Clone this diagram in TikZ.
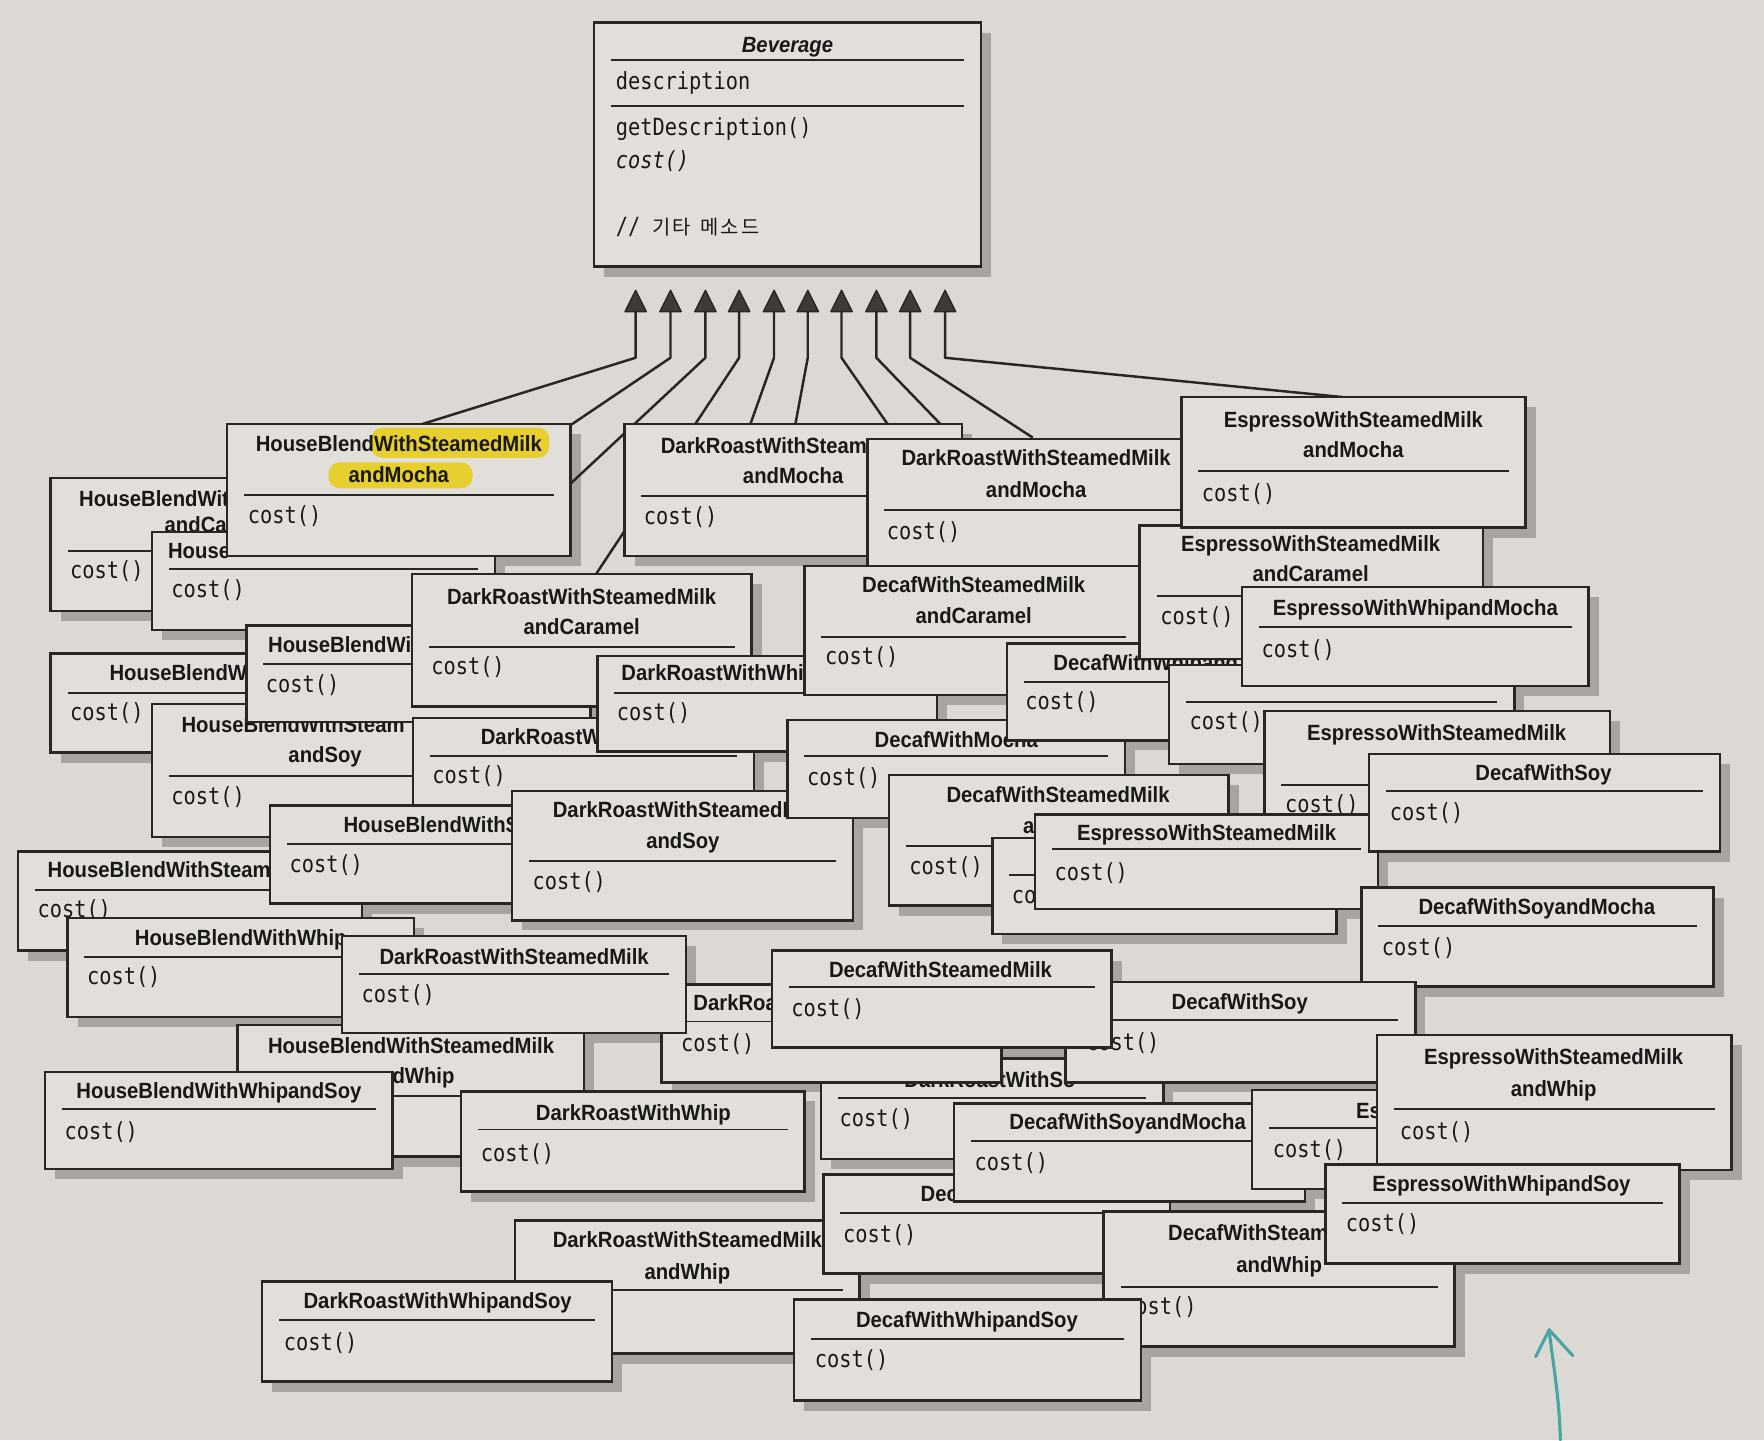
\documentclass[tikz,border=0pt]{standalone}
\usepackage{fontspec}
\setmainfont{Liberation Sans}
\newfontfamily\ttlf[FakeStretch=0.92]{Liberation Sans}
\newfontfamily\monof[FakeStretch=0.86]{DejaVu Sans Mono}
\newfontfamily\cjk{Noto Sans CJK KR}
\definecolor{paperc}{HTML}{DCD9D5}
\definecolor{boxc}{HTML}{E2DFDB}
\definecolor{shadc}{HTML}{A7A4A1}
\definecolor{linec}{HTML}{2A2624}
\definecolor{txtc}{HTML}{1A1817}
\definecolor{arrc}{HTML}{3E3A38}
\definecolor{hlc}{HTML}{E6CF2E}
\definecolor{tealc}{HTML}{4AA5A3}
\pgfdeclarelayer{bgl}
\pgfdeclarelayer{shl}
\pgfsetlayers{bgl,shl,main}
\newcommand{\ubox}[5]{%
  \begin{pgfonlayer}{shl}
  \fill[shadowst] ({#2+9},{#3+9}) rectangle ({#4+9},{#5+9});
  \end{pgfonlayer}
  \node[boxst, anchor=north west, minimum width={(#4-#2)*0.5pt}, minimum height={(#5-#3)*0.5pt}] (#1) at (#2,#3) {};
}
\newcommand{\udiv}[3]{\draw[divst] ({#1+15},#3) -- ({#2-15},#3);}
\begin{document}
\begin{tikzpicture}[x=0.5pt,y=-0.5pt,
  boxst/.style={draw=linec, fill=boxc, line width=1.1pt, inner sep=0pt, outer sep=0pt},
  shadowst/.style={fill=shadc},
  divst/.style={draw=linec, line width=0.8pt},
  ttl/.style={font=\ttlf\bfseries\fontsize{9.8}{11}\selectfont, text=txtc, inner sep=0pt, anchor=base, yshift=-3.5pt},
  ttlw/.style={ttl, anchor=base west},
  mtx/.style={font=\monof\fontsize{10.5}{12}\selectfont, text=txtc, inner sep=0pt, anchor=base west, yshift=-2.75pt},
  conn/.style={draw=linec, line width=1.1pt, line join=round},
  arrhead/.style={fill=arrc, draw=linec, line width=0.6pt, line join=round},
  tealst/.style={draw=tealc, line width=1.4pt, line cap=round, line join=round},
]
\useasboundingbox (0,0) rectangle (1568,1280);
\begin{pgfonlayer}{bgl}
\fill[paperc] (0,0) rectangle (1568,1280);
\end{pgfonlayer}

% ---------- Beverage ----------
\ubox{Bev}{528}{20}{872}{237}
\udiv{528}{872}{53}
\udiv{528}{872}{94}
\node[ttl, font=\ttlf\bfseries\itshape\fontsize{9.8}{11}\selectfont] (Bevt) at (700,40) {Beverage};
\node[mtx] (Bevd) at (547,74) {description};
\node[mtx] (Bevg) at (547,115) {getDescription()};
\node[mtx, font=\monof\itshape\fontsize{10.5}{12}\selectfont] (Bevc) at (547,144) {cost()};
\node[mtx] (Bevk) at (547,203) {// {\cjk\fontsize{8.8}{10}\selectfont 기\kern1pt 타\hspace{4pt}메\kern1pt 소\kern1pt 드}};

% ---------- arrows ----------
\coordinate (en1) at (375,377);
\coordinate (en2) at (507,378);
\coordinate (en3) at (506,431);
\coordinate (en4) at (530,510);
\coordinate (en5) at (667,377);
\coordinate (en6) at (707,377);
\coordinate (en7) at (789,377);
\coordinate (en8) at (836,377);
\coordinate (en9) at (918,389);
\coordinate (en10) at (1194,353);
\foreach \i/\xx in {1/565,2/596,3/627,4/657,5/688,6/718,7/748,8/779,9/809,10/840} {
  \coordinate (ar\i) at (\xx,277);
  \coordinate (bd\i) at (\xx,318);
}
\foreach \i in {1,...,10} { \draw[conn] (ar\i) -- (bd\i) -- (en\i); }
\foreach \xx in {565,596,627,657,688,718,748,779,809,840} {
  \filldraw[arrhead] (\xx,258) -- ({\xx-9.5},277) -- ({\xx+9.5},277) -- cycle;
}

% ---------- boxes, back to front ----------
\ubox{A1}{45}{425}{348}{543}
\udiv{45}{348}{490}
\node[ttlw] (A1t1) at (70,443) {HouseBlendWit};
\node[ttlw] (A1t2) at (146,466) {andCa};
\node[mtx] (A1c) at (62,509) {cost()};

\ubox{A2}{135}{473}{440}{560}
\udiv{135}{440}{506}
\node[ttlw] (A2t) at (149,489) {House};
\node[mtx] (A2c) at (152,526) {cost()};

\ubox{A3}{202}{377}{507}{494}
\fill[hlc, rounded corners=5pt] (330,380) rectangle (488,407);
\fill[hlc, rounded corners=5pt] (292,411) rectangle (420,434);
\udiv{202}{507}{440}
\node[ttl] (A3t1) at (354.5,394) {HouseBlendWithSteamedMilk};
\node[ttl] (A3t2) at (354.5,422) {andMocha};
\node[mtx] (A3c) at (220,460) {cost()};

\ubox{A5}{45}{581}{350}{669}
\udiv{45}{350}{616}
\node[ttlw] (A5t) at (97,598) {HouseBlendW};
\node[mtx] (A5c) at (62,635) {cost()};

\ubox{A6}{135}{626}{443}{744}
\udiv{135}{443}{690}
\node[ttlw] (A6t1) at (161,644) {HouseBlendWithSteam};
\node[ttl] (A6t2) at (289,671) {andSoy};
\node[mtx] (A6c) at (152,710) {cost()};

\ubox{A4}{219}{556}{525}{642}
\udiv{219}{525}{590}
\node[ttlw] (A4t) at (238,573) {HouseBlendWi};
\node[mtx] (A4c) at (236,610) {cost()};

\ubox{B4}{366}{510}{668}{628}
\udiv{366}{668}{575}
\node[ttl] (B4t1) at (517,530) {DarkRoastWithSteamedMilk};
\node[ttl] (B4t2) at (517,557) {andCaramel};
\node[mtx] (B4c) at (383,594) {cost()};

\ubox{B6}{367}{638}{670}{725}
\udiv{367}{670}{672}
\node[ttlw] (B6t) at (427,655) {DarkRoastW};
\node[mtx] (B6c) at (384,691) {cost()};

\ubox{G3}{16}{757}{322}{845}
\udiv{16}{322}{791}
\node[ttlw] (G3t) at (42,773) {HouseBlendWithSteam};
\node[mtx] (G3c) at (33,810) {cost()};

\ubox{G4}{240}{716}{545}{803}
\udiv{240}{545}{750}
\node[ttlw] (G4t) at (305,733) {HouseBlendWithS};
\node[mtx] (G4c) at (257,770) {cost()};

\ubox{G6}{455}{703}{758}{818}
\udiv{455}{758}{765}
\node[ttlw] (G6t1) at (491,720) {DarkRoastWithSteamedM};
\node[ttl] (G6t2) at (607,747) {andSoy};
\node[mtx] (G6c) at (473,785) {cost()};

\ubox{B5}{531}{583}{833}{668}
\udiv{531}{833}{616}
\node[ttlw] (B5t) at (552,598) {DarkRoastWithWhi};
\node[mtx] (B5c) at (548,635) {cost()};

\ubox{B1}{555}{377}{855}{494}
\udiv{555}{855}{441}
\node[ttlw] (B1t1) at (587,396) {DarkRoastWithSteam};
\node[ttl] (B1t2) at (705,423) {andMocha};
\node[mtx] (B1c) at (572,461) {cost()};

\ubox{B2}{771}{390}{1072}{505}
\udiv{771}{1072}{453}
\node[ttl] (B2t1) at (921,407) {DarkRoastWithSteamedMilk};
\node[ttl] (B2t2) at (921,435) {andMocha};
\node[mtx] (B2c) at (788,474) {cost()};

\ubox{B7}{715}{503}{1016}{618}
\udiv{715}{1016}{566}
\node[ttl] (B7t1) at (865.5,520) {DecafWithSteamedMilk};
\node[ttl] (B7t2) at (865.5,547) {andCaramel};
\node[mtx] (B7c) at (733,585) {cost()};

\ubox{H1}{700}{640}{1000}{727}
\udiv{700}{1000}{672}
\node[ttl] (H1t) at (850,657) {DecafWithMocha};
\node[mtx] (H1c) at (717,693) {cost()};

\ubox{C3}{895}{572}{1200}{658}
\udiv{895}{1200}{606}
\node[ttlw] (C3t) at (936,589) {DecafWithWhipand};
\node[mtx] (C3c) at (911,625) {cost()};

\ubox{C4}{1039}{591}{1346}{679}
\udiv{1039}{1346}{624}
\node[mtx] (C4c) at (1057,643) {cost()};

\ubox{C1}{1013}{467}{1318}{586}
\udiv{1013}{1318}{530}
\node[ttl] (C1t1) at (1165,483) {EspressoWithSteamedMilk};
\node[ttl] (C1t2) at (1165,510) {andCaramel};
\node[mtx] (C1c) at (1031,550) {cost()};

\ubox{B3}{1050}{353}{1356}{469}
\udiv{1050}{1356}{419}
\node[ttl] (B3t1) at (1203,373) {EspressoWithSteamedMilk};
\node[ttl] (B3t2) at (1203,400) {andMocha};
\node[mtx] (B3c) at (1068,440) {cost()};

\ubox{C2}{1104}{522}{1412}{610}
\udiv{1104}{1412}{557}
\node[ttl] (C2t) at (1258,540) {EspressoWithWhipandMocha};
\node[mtx] (C2c) at (1121,579) {cost()};

\ubox{C5}{1124}{632}{1431}{752}
\udiv{1124}{1431}{698}
\node[ttl] (C5t) at (1277,651) {EspressoWithSteamedMilk};
\node[mtx] (C5c) at (1142,717) {cost()};

\ubox{D1}{790}{689}{1092}{805}
\udiv{790}{1092}{752}
\node[ttl] (D1t1) at (940.5,706) {DecafWithSteamedMilk};
\node[ttlw] (D1t2) at (909,734) {a};
\node[mtx] (D1c) at (808,772) {cost()};

\ubox{D2}{882}{745}{1188}{830}
\udiv{882}{1188}{778}
\node[mtx] (D2c) at (899,798) {co};

\ubox{D3}{920}{724}{1225}{808}
\udiv{920}{1225}{755}
\node[ttl] (D3t) at (1072.5,740) {EspressoWithSteamedMilk};
\node[mtx] (D3c) at (937,777) {cost()};

\ubox{C6}{1217}{670}{1529}{757}
\udiv{1217}{1529}{703}
\node[ttl] (C6t) at (1372,687) {DecafWithSoy};
\node[mtx] (C6c) at (1235,724) {cost()};

\ubox{E1}{1210}{789}{1523}{877}
\udiv{1210}{1523}{823}
\node[ttl] (E1t) at (1366,806) {DecafWithSoyandMocha};
\node[mtx] (E1c) at (1228,844) {cost()};

\ubox{H2}{730}{941}{1034}{1030}
\udiv{730}{1034}{976}
\node[ttlw] (H2t) at (803.5,960) {DarkRoastWithSo};
\node[mtx] (H2c) at (746,996) {cost()};

\ubox{F2}{588}{875}{890}{962}
\udiv{588}{890}{908}
\node[ttlw] (F2t) at (616,891) {DarkRoa};
\node[mtx] (F2c) at (605,929) {cost()};

\ubox{E2}{947}{873}{1258}{962}
\udiv{947}{1258}{907}
\node[ttl] (E2t) at (1102,890) {DecafWithSoy};
\node[mtx] (E2c) at (965,928) {cost()};

\ubox{F1}{686}{845}{988}{931}
\udiv{686}{988}{877}
\node[ttl] (F1t) at (836,861.5) {DecafWithSteamedMilk};
\node[mtx] (F1c) at (703,898) {cost()};

\ubox{G2}{60}{816}{368}{904}
\udiv{60}{368}{851}
\node[ttlw] (G2t) at (119.5,833) {HouseBlendWithWhip};
\node[mtx] (G2c) at (77,870) {cost()};

\ubox{G8}{211}{911}{519}{1028}
\udiv{211}{519}{974}
\node[ttl] (G8t1) at (365.4,929) {HouseBlendWithSteamedMilk};
\node[ttlw] (G8t2) at (348.5,956) {dWhip};

\ubox{G1}{304}{832}{610}{918}
\udiv{304}{610}{866}
\node[ttl] (G1t) at (457,850) {DarkRoastWithSteamedMilk};
\node[mtx] (G1c) at (321,886) {cost()};

\ubox{G7}{40}{953}{349}{1039}
\udiv{40}{349}{986}
\node[ttl] (G7t) at (194.6,969.5) {HouseBlendWithWhipandSoy};
\node[mtx] (G7c) at (57,1007) {cost()};

\ubox{G9}{410}{970}{715}{1059}
\udiv{410}{715}{1004}
\node[ttl] (G9t) at (563,989) {DarkRoastWithWhip};
\node[mtx] (G9c) at (427,1027) {cost()};

\ubox{F5}{458}{1085}{764}{1203}
\udiv{458}{764}{1147}
\node[ttl] (F5t1) at (611,1102) {DarkRoastWithSteamedMilk};
\node[ttl] (F5t2) at (611,1130) {andWhip};

\ubox{F4}{732}{1044}{1040}{1132}
\udiv{732}{1040}{1078}
\node[ttlw] (F4t) at (818,1061) {Dec};
\node[mtx] (F4c) at (749,1099) {cost()};

\ubox{E4}{848}{981}{1160}{1068}
\udiv{848}{1160}{1014}
\node[ttlw] (E4t) at (896.8,997) {DecafWithSoyandMocha};
\node[mtx] (E4c) at (866,1035) {cost()};

\ubox{E3}{1113}{969}{1420}{1057}
\udiv{1113}{1420}{1003}
\node[ttlw] (E3t) at (1205,987) {Es};
\node[mtx] (E3c) at (1131,1023) {cost()};

\ubox{E5}{1224}{920}{1539}{1040}
\udiv{1224}{1539}{986}
\node[ttl] (E5t1) at (1381,939) {EspressoWithSteamedMilk};
\node[ttl] (E5t2) at (1381,968) {andWhip};
\node[mtx] (E5c) at (1244,1007) {cost()};

\ubox{E7}{981}{1077}{1293}{1197}
\udiv{981}{1293}{1144}
\node[ttlw] (E7t1) at (1038,1096) {DecafWithSteam};
\node[ttl] (E7t2) at (1137,1124) {andWhip};
\node[mtx] (E7c) at (998,1163) {cost()};

\ubox{E6}{1178}{1035}{1493}{1123}
\udiv{1178}{1493}{1069}
\node[ttl] (E6t) at (1334.6,1052) {EspressoWithWhipandSoy};
\node[mtx] (E6c) at (1196,1089) {cost()};

\ubox{F3}{706}{1155}{1014}{1245}
\udiv{706}{1014}{1190}
\node[ttl] (F3t) at (859.5,1173) {DecafWithWhipandSoy};
\node[mtx] (F3c) at (724,1210) {cost()};

\ubox{G5}{233}{1139}{544}{1228}
\udiv{233}{544}{1173}
\node[ttl] (G5t) at (389,1156) {DarkRoastWithWhipandSoy};
\node[mtx] (G5c) at (252,1195) {cost()};

% ---------- hand-drawn teal arrow ----------
\coordinate (tq0) at (1387,1280);
\coordinate (tq1) at (1377,1182);
\coordinate (tqL) at (1365,1206);
\coordinate (tqR) at (1398,1205);
\draw[tealst] (tq0) .. controls (1386,1240) and (1380,1210) .. (tq1);
\draw[tealst] (tqL) -- (tq1) -- (tqR);
\end{tikzpicture}
\end{document}
